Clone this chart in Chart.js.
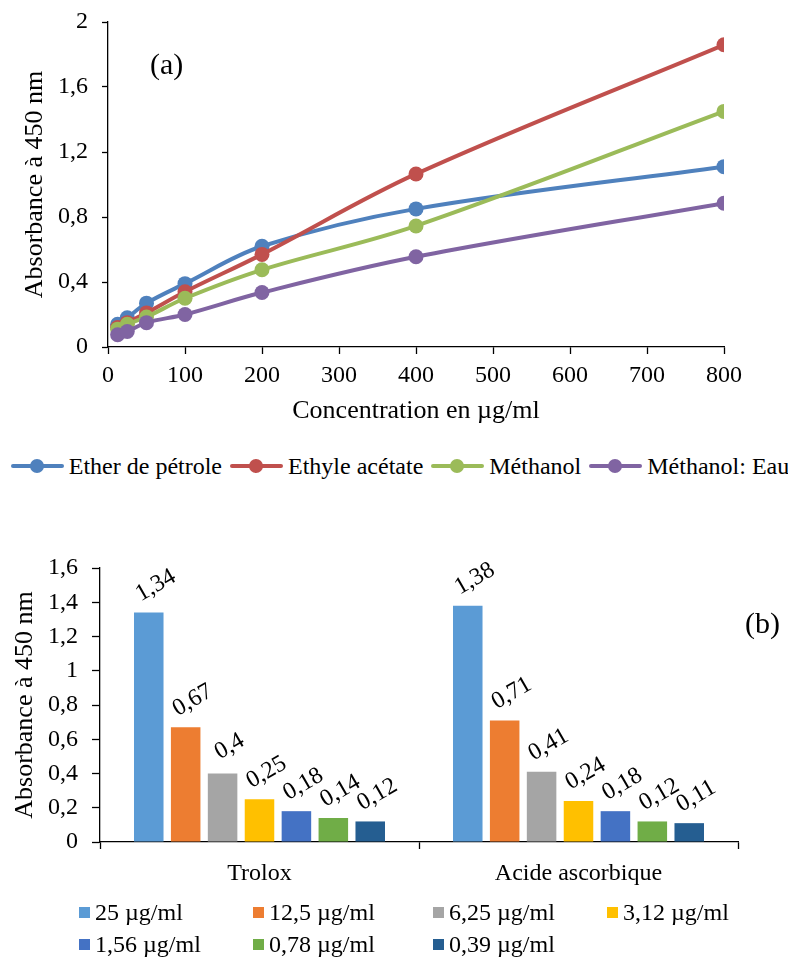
<!DOCTYPE html>
<html>
<head>
<meta charset="utf-8">
<script src="https://cdn.jsdelivr.net/npm/chart.js@4.4.1/dist/chart.umd.min.js"></script>
<style>
  body { margin: 0; background: #fff; font-family: 'Liberation Serif', 'Times New Roman', serif; }
  #page { position: relative; width: 788px; height: 960px; overflow: hidden; }
  #lineChart { position: absolute; left: 0; top: 0; }
  #barChart { position: absolute; left: 0; top: 530px; }
  #lineLegend { position: absolute; left: 6px; top: 450px; width: 788px; height: 32px;
    display: flex; justify-content: center; align-items: center; gap: 8px; font-size: 24px; color: #000; }
  .litem { display: flex; align-items: center; white-space: nowrap; }
  .lmark { position: relative; width: 53px; height: 4px; margin-right: 5px; border-radius: 2px; }
  .lmark span { position: absolute; left: 19px; top: -5px; width: 14px; height: 14px; border-radius: 50%; }
  #barLegend { position: absolute; left: 79px; top: 896px; display: grid;
    grid-template-columns: 174px 180px 174px 174px; grid-auto-rows: 32px; font-size: 24px; color: #000; }
  .bitem { display: flex; align-items: center; white-space: nowrap; }
  .bsq { width: 11px; height: 11px; margin-right: 5px; }
</style>
</head>
<body>
<div id="page">
  <canvas id="lineChart" width="788" height="440"></canvas>
  <div id="lineLegend"></div>
  <canvas id="barChart" width="788" height="370"></canvas>
  <div id="barLegend"></div>
</div>
<script>
const FONT = "'Liberation Serif', 'Times New Roman', serif";

// (a) absorbance vs concentration, one series per extract
const concentrations = [12.5, 25, 50, 100, 200, 400, 800];
const extractNames = ['Ether de pétrole', 'Ethyle acétate', 'Méthanol', 'Méthanol: Eau'];
const extractColors = ['#4F81BD', '#C0504D', '#9BBB59', '#8064A2'];
const etherPetrole = [0.14, 0.18, 0.27, 0.39, 0.62, 0.85, 1.11];
const ethyleAcetate = [0.12, 0.15, 0.21, 0.34, 0.57, 1.065, 1.86];
const methanol = [0.11, 0.14, 0.185, 0.30, 0.475, 0.745, 1.45];
const methanolEau = [0.075, 0.095, 0.15, 0.20, 0.335, 0.555, 0.885];
const extractValues = [etherPetrole, ethyleAcetate, methanol, methanolEau];

// (b) standards
const standards = ['Trolox', 'Acide ascorbique'];
const standardDoses = ['25 µg/ml', '12,5 µg/ml', '6,25 µg/ml', '3,12 µg/ml', '1,56 µg/ml', '0,78 µg/ml', '0,39 µg/ml'];
const doseColors = ['#5B9BD5', '#ED7D31', '#A5A5A5', '#FFC000', '#4472C4', '#70AD47', '#255E91'];
const trolox = [1.34, 0.67, 0.4, 0.25, 0.18, 0.14, 0.12];
const acideAscorbique = [1.38, 0.71, 0.41, 0.24, 0.18, 0.12, 0.11];

const comma = v => String(+Number(v).toFixed(2)).replace('.', ',');

// panel letter "(a)" / "(b)"
const panelLabel = {
  id: 'panelLabel',
  afterDraw(chart, args, opts) {
    const ctx = chart.ctx;
    ctx.save();
    ctx.font = '30px ' + FONT;
    ctx.fillStyle = '#000';
    ctx.textAlign = opts.align || 'left';
    ctx.textBaseline = 'middle';
    ctx.fillText(opts.text, opts.x, opts.y);
    ctx.restore();
  }
};

// slanted value labels above each bar
const barValues = {
  id: 'barValues',
  afterDatasetsDraw(chart) {
    const ctx = chart.ctx;
    ctx.save();
    ctx.font = '24px ' + FONT;
    ctx.fillStyle = '#000';
    ctx.textAlign = 'center';
    ctx.textBaseline = 'middle';
    chart.data.datasets.forEach((ds, i) => {
      chart.getDatasetMeta(i).data.forEach((bar, j) => {
        ctx.save();
        ctx.translate(bar.x + 7, bar.y - 27);
        ctx.rotate(-Math.PI / 6);
        ctx.fillText(comma(ds.data[j]), 0, 0);
        ctx.restore();
      });
    });
    ctx.restore();
  }
};

const axisBorder = { display: true, color: '#000', width: 1.3 };
const tickFont = { family: FONT, size: 24 };
const titleFont = { family: FONT, size: 26 };

// keep the tick labels from pushing the plot area inwards
const noEdgePadding = s => { s.paddingTop = 0; s.paddingBottom = 0; s.paddingLeft = 0; s.paddingRight = 0; };

new Chart(document.getElementById('lineChart'), {
  type: 'line',
  data: {
    datasets: extractNames.map((name, i) => ({
      label: name,
      data: concentrations.map((c, k) => ({ x: c, y: extractValues[i][k] })),
      borderColor: extractColors[i],
      backgroundColor: extractColors[i],
      pointBackgroundColor: extractColors[i],
      pointBorderWidth: 0,
      pointRadius: 7.5,
      borderWidth: 4,
      tension: 0.35,
      order: extractNames.length - 1 - i
    }))
  },
  options: {
    responsive: false,
    animation: false,
    layout: { padding: { top: 22, right: 64, left: 0, bottom: 0 } },
    plugins: {
      legend: { display: false },
      tooltip: { enabled: false },
      panelLabel: { text: '(a)', x: 150, y: 66 }
    },
    scales: {
      x: {
        type: 'linear', min: 0, max: 800,
        border: axisBorder,
        grid: { drawOnChartArea: false, tickLength: 7, color: '#000', tickWidth: 1.3 },
        ticks: { stepSize: 100, font: tickFont, color: '#000', padding: 7, maxRotation: 0 },
        title: { display: true, text: 'Concentration en µg/ml', font: titleFont, color: '#000', padding: { top: 0, bottom: 13 } },
        afterFit(s) { s.height = 93; noEdgePadding(s); }
      },
      y: {
        min: 0, max: 2,
        border: axisBorder,
        grid: { drawOnChartArea: false, tickLength: 6, color: '#000', tickWidth: 1.3 },
        ticks: { stepSize: 0.4, font: tickFont, color: '#000', padding: 14, callback: v => comma(v) },
        title: { display: true, text: 'Absorbance à 450 nm', font: titleFont, color: '#000', padding: { top: 20, bottom: 0 } },
        afterFit(s) { s.width = 108; noEdgePadding(s); }
      }
    }
  },
  plugins: [panelLabel]
});

new Chart(document.getElementById('barChart'), {
  type: 'bar',
  data: {
    labels: standards,
    datasets: standardDoses.map((dose, i) => ({
      label: dose,
      data: [trolox[i], acideAscorbique[i]],
      backgroundColor: doseColors[i],
      categoryPercentage: 0.81,
      barPercentage: 0.8
    }))
  },
  options: {
    responsive: false,
    animation: false,
    layout: { padding: { top: 38, right: 50, left: 0, bottom: 0 } },
    plugins: {
      legend: { display: false },
      tooltip: { enabled: false },
      panelLabel: { text: '(b)', x: 780, y: 95, align: 'right' }
    },
    scales: {
      x: {
        border: axisBorder,
        grid: { drawOnChartArea: false, tickLength: 7, color: '#000', tickWidth: 1.3 },
        ticks: { font: tickFont, color: '#000', padding: 10, maxRotation: 0 },
        afterFit(s) { s.height = 58; noEdgePadding(s); }
      },
      y: {
        min: 0, max: 1.6,
        border: axisBorder,
        grid: { drawOnChartArea: false, tickLength: 8, color: '#000', tickWidth: 1.3 },
        ticks: { stepSize: 0.2, font: tickFont, color: '#000', padding: 14, callback: v => comma(v) },
        title: { display: true, text: 'Absorbance à 450 nm', font: titleFont, color: '#000', padding: { top: 10, bottom: 0 } },
        afterFit(s) { s.width = 100; noEdgePadding(s); }
      }
    }
  },
  plugins: [barValues, panelLabel]
});

// legends
const lineLegend = document.getElementById('lineLegend');
extractNames.forEach((name, i) => {
  const item = document.createElement('div');
  item.className = 'litem';
  item.innerHTML = '<div class="lmark" style="background:' + extractColors[i] + '"><span style="background:' +
    extractColors[i] + '"></span></div>' + name;
  lineLegend.appendChild(item);
});

const barLegend = document.getElementById('barLegend');
standardDoses.forEach((dose, i) => {
  const item = document.createElement('div');
  item.className = 'bitem';
  item.innerHTML = '<div class="bsq" style="background:' + doseColors[i] + '"></div>' + dose;
  barLegend.appendChild(item);
});
</script>
</body>
</html>
